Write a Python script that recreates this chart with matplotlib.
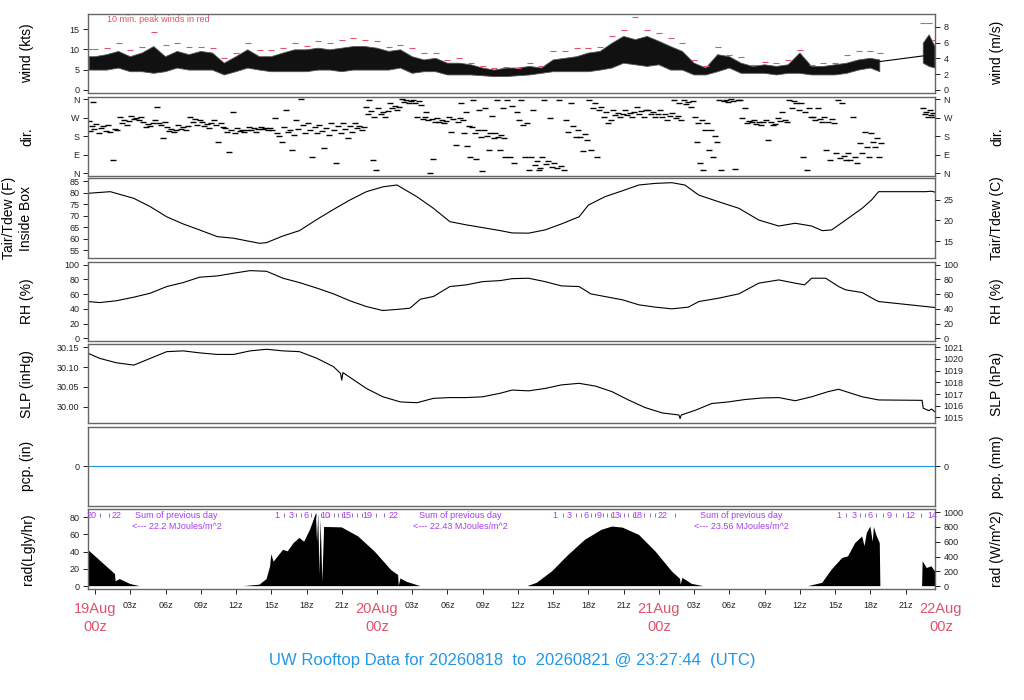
"""UW rooftop weather station: 3-day stacked panel plot."""
import numpy as np
import matplotlib
matplotlib.use("Agg")
import matplotlib.pyplot as plt
from matplotlib.transforms import blended_transform_factory

plt.rcParams["font.family"] = ["Liberation Sans", "DejaVu Sans"]

RED = "#DF536B"
BLUE = "#2297E6"
PURPLE = "#A63CF0"
nan = np.nan

# ---- data; x is hours since 19 Aug 00z ----
wind_hours = [-0.5] + list(range(0, 67)) + [66.8, 68.0, 70.5, 71.0, 71.5]
wind_low = [4.9, 4.9, 4.9, 5.4, 4.5, 4.5, 4.1, 4.5, 5.4, 4.9, 4.9, 4.9, 3.7, 4.5, 5.4,
            4.9, 4.5, 4.5, 4.5, 4.5, 4.9, 4.9, 4.5, 4.9, 4.9, 4.9, 4.9, 5.4, 4.1, 4.5,
            4.5, 3.7, 3.7, 3.7, 3.5, 3.3, 3.3, 3.5, 3.7, 4.1, 4.5, 4.5, 4.5, 4.5, 4.9,
            5.4, 6.6, 6.2, 5.8, 6.2, 4.9, 4.9, 3.7, 3.7, 4.5, 5.4, 4.1, 4.1, 4.1, 3.7,
            4.1, 4.1, 3.7, 3.7, 3.7, 4.1, 4.9, 5.4, 4.5, nan, 6.6, 5.8, 5.4]
wind_high = [8.2, 8.2, 8.7, 9.5, 8.2, 9.1, 10.7, 8.2, 9.5, 8.7, 9.5, 9.1, 6.6, 8.2, 9.9,
             8.2, 8.2, 9.1, 9.9, 9.9, 10.3, 9.9, 10.3, 10.7, 10.7, 10.3, 9.5, 9.9, 8.2, 7.4,
             7.8, 6.6, 6.6, 6.2, 5.4, 4.9, 5.4, 5.4, 5.8, 5.4, 7.4, 7.8, 8.2, 9.1, 9.5,
             11.5, 13.2, 12.4, 13.2, 12.0, 10.7, 9.5, 6.6, 5.4, 8.7, 8.2, 6.6, 5.8, 6.2, 5.8,
             6.2, 9.1, 5.8, 5.8, 6.2, 6.6, 7.4, 7.8, 7.4, nan, 11.5, 13.6, 10.7]
wind_peak = [10.1, 10.1, 10.3, 11.5, 9.9, 10.7, 14.4, 11.1, 11.5, 10.7, 10.7, 10.3, 7.8, 9.1, 11.5,
             9.9, 9.9, 10.3, 11.5, 10.9, 12.0, 11.5, 12.4, 12.8, 12.4, 12.0, 10.7, 11.1, 10.3, 9.1,
             9.1, 7.4, 7.8, 6.6, 5.8, 5.4, 5.6, 5.4, 6.6, 5.8, 9.5, 9.5, 10.3, 10.3, 10.7,
             13.2, 14.8, 18.1, 14.8, 14.0, 12.8, 11.5, 7.4, 5.8, 10.7, 8.7, 8.2, 6.2, 7.0, 6.6,
             7.4, 9.9, 6.2, 6.6, 6.6, 8.7, 9.5, 9.5, 9.1, nan, 16.5, 16.5, 12.4]
wind_gap_hours = [66.8, 70.5]
wind_gap_kts = [7.0, 8.4]

dir_block_start = [-0.6] + list(range(0, 67)) + [70.4, 71.0]
dir_block_values = [
    [252, 205, 232, 349, 214], [240, 196, 222, 230, 205], [235, 200, 64, 215, 210],
    [275, 245, 260, 235, 255], [280, 262, 270, 259, 275], [250, 226, 240, 232, 245],
    [259, 324, 245, 235, 169, 250], [226, 205, 215, 202, 212], [235, 215, 225, 210, 228],
    [275, 250, 262, 235, 258], [250, 228, 238, 218, 245], [259, 235, 153, 245, 226],
    [218, 200, 104, 210, 300, 194], [218, 205, 212, 202, 208], [226, 210, 218, 202, 215],
    [226, 214, 220, 210, 218], [210, 267, 195, 180, 153], [226, 308, 200, 212, 112, 186],
    [259, 215, 360, 235, 194], [243, 210, 80, 225, 194], [235, 205, 120, 220, 186],
    [243, 210, 47, 228, 194], [243, 215, 169, 228, 202], [243, 220, 232, 210, 225],
    [324, 290, 357, 305, 64, 275, 15], [316, 290, 300, 275, 305], [340, 320, 330, 308, 325],
    [360, 348, 355, 340, 352], [357, 340, 275, 350, 332, 265], [275, 300, 258, 0, 265, 70, 251],
    [267, 250, 258, 243, 255], [275, 202, 265, 137, 251], [267, 340, 259, 195, 300, 130, 230, 80],
    [226, 357, 195, 70, 210, 308, 178, 8], [210, 320, 180, 112, 195, 280, 169],
    [194, 357, 175, 112, 185, 320, 169, 80], [357, 80, 330, 47, 300], [259, 357, 235, 80, 245, 15],
    [80, 308, 40, 60, 15, 25], [80, 357, 45, 60, 270, 31], [47, 25, 357, 35, 15],
    [259, 200, 340, 230, 178], [210, 175, 110, 190, 161], [357, 112, 320, 340, 80, 308],
    [324, 275, 300, 243, 260], [308, 285, 295, 275, 290], [308, 285, 295, 275, 300],
    [324, 290, 305, 275, 310], [308, 288, 298, 275, 290], [308, 275, 290, 259, 280],
    [292, 357, 270, 280, 340, 259], [357, 335, 348, 324, 350], [275, 150, 243, 47, 260, 15, 210],
    [243, 112, 210, 80, 180, 150], [357, 15, 350, 355, 349], [360, 352, 20, 357, 355],
    [267, 320, 243, 255, 250], [259, 240, 248, 235, 250], [259, 160, 248, 235, 240],
    [267, 255, 300, 260, 251], [357, 320, 350, 340, 308], [340, 80, 300, 15, 320, 275],
    [275, 258, 320, 265, 251], [275, 112, 250, 64, 262, 243], [96, 357, 75, 340, 85, 64],
    [96, 65, 275, 80, 47], [145, 100, 200, 125, 80], [194, 150, 129, 170, 80, 145],
    [316, 290, 300, 275], [308, 285, 295, 275],
]

temp_hours = [-0.57, 1.3, 3.3, 4.7, 6.1, 7.5, 8.9, 10.4, 11.8, 14.0, 14.6, 16.0, 17.4, 18.9,
              20.3, 21.7, 23.1, 24.5, 25.7, 27.4, 28.8, 30.2, 31.6, 33.0, 34.5, 35.5, 36.9,
              38.3, 39.7, 41.2, 42.0, 43.4, 44.9, 46.3, 47.7, 49.1, 50.2, 51.4, 53.1, 54.8,
              56.5, 58.2, 59.6, 61.0, 61.9, 62.7, 63.9, 65.3, 66.1, 66.7, 70.7, 71.2, 71.5]
temp_f = [79.7, 80.4, 77.5, 73.9, 69.5, 66.4, 63.8, 60.9, 60.2, 58.0, 58.3, 61.2, 63.5, 68.4,
          72.7, 76.8, 80.4, 82.5, 83.3, 78.2, 73.2, 67.4, 66.0, 64.8, 63.5, 62.5, 62.4,
          63.8, 66.4, 69.5, 74.6, 78.2, 80.8, 83.3, 84.0, 84.3, 83.3, 78.9, 76.0, 73.2,
          68.1, 65.5, 66.7, 65.5, 63.5, 63.8, 68.1, 73.2, 76.8, 80.4, 80.4, 80.6, 80.2]

rh_hours = [-0.6, 0.4, 1.8, 3.3, 4.7, 6.1, 7.5, 8.9, 10.4, 11.8, 13.2, 14.6, 16.0, 17.4,
            18.9, 20.3, 21.7, 23.1, 24.5, 26.0, 26.8, 27.7, 28.8, 30.2, 31.6, 33.0, 34.5,
            35.5, 36.9, 38.3, 39.7, 41.2, 42.2, 43.4, 44.9, 46.3, 47.7, 49.1, 50.5, 51.4,
            53.1, 54.8, 56.5, 58.2, 59.6, 60.4, 61.0, 62.2, 63.3, 63.9, 65.3, 66.4, 66.7, 71.5]
rh_pct = [50.0, 48.6, 51.0, 55.9, 61.3, 70.3, 75.7, 83.0, 84.7, 88.4, 91.9, 91.0, 81.6, 75.7,
          68.1, 60.4, 51.0, 43.2, 37.8, 39.7, 41.0, 53.2, 56.8, 70.3, 72.6, 77.0, 78.4,
          81.0, 81.6, 77.0, 71.2, 70.3, 60.4, 56.8, 52.3, 45.5, 42.4, 40.1, 42.4, 50.0,
          54.6, 60.4, 74.9, 79.3, 74.9, 72.6, 81.6, 81.6, 70.3, 65.8, 62.2, 52.3, 50.0, 41.9]

slp_hours = [-0.6, 0.4, 1.8, 3.3, 4.7, 6.1, 7.5, 8.9, 10.4, 11.8, 13.2, 14.6, 16.0, 17.4,
             18.9, 20.3, 20.9, 21.0, 21.1, 21.7, 23.1, 24.5, 26.0, 27.4, 28.8, 30.2, 31.6,
             33.0, 34.5, 35.5, 36.9, 38.3, 39.7, 41.2, 42.6, 44.0, 45.4, 46.8, 48.3, 49.7,
             49.8, 49.9, 51.1, 52.5, 53.9, 55.3, 56.8, 58.2, 59.6, 61.0, 62.4, 63.3, 65.3,
             66.7, 70.4, 70.5, 71.0, 71.2, 71.5]
slp_inhg = [30.135, 30.122, 30.111, 30.105, 30.122, 30.139, 30.141, 30.136, 30.132, 30.132,
            30.141, 30.145, 30.141, 30.139, 30.122, 30.101, 30.084, 30.067, 30.086, 30.074,
            30.046, 30.025, 30.012, 30.010, 30.021, 30.023, 30.023, 30.025, 30.034, 30.042,
            30.040, 30.046, 30.055, 30.059, 30.052, 30.038, 30.017, 29.998, 29.984, 29.979,
            29.970, 29.979, 29.991, 30.008, 30.012, 30.018, 30.022, 30.023, 30.015, 30.025,
            30.038, 30.044, 30.025, 30.017, 30.016, 29.996, 29.990, 29.994, 29.987]

pcp_hours = [-0.6, 71.5]
pcp_in = [0.0, 0.0]

rad_hours = [-0.6, 1.7, 1.75, 2.1, 3.0, 3.8,
             12.6, 14.0, 14.6, 14.9, 15.0, 15.2, 16.0, 16.4, 16.9, 17.4, 17.8, 18.3, 18.8,
             18.9, 19.0, 19.1, 19.2, 19.35, 19.5, 19.6, 21.0, 22.4, 23.8, 25.2, 25.8, 25.85,
             26.0, 26.5, 27.7,
             36.8, 37.6, 38.9, 40.3, 41.7, 43.1, 44.0, 44.9, 46.3, 47.7, 49.1, 49.8, 49.85,
             50.0, 50.8, 51.8,
             60.7, 61.9, 62.7, 63.6, 64.1, 64.7, 65.3, 65.5, 65.7, 66.0, 66.2, 66.3, 66.5,
             66.8, 66.85, 68.0, 70.4, 70.45, 70.8, 71.2, 71.5]
rad_wm2 = [490, 163, 65, 96, 29, 0,
           0, 20, 96, 265, 430, 330, 490, 470, 581, 650, 600, 762, 980,
           600, 985, 150, 900, 60, 800, 798, 793, 671, 468, 218, 150, 5,
           105, 60, 0,
           0, 45, 200, 424, 625, 759, 804, 790, 692, 469, 200, 98, 20,
           112, 31, 0,
           0, 45, 223, 380, 402, 580, 670, 540, 720, 804, 600, 800, 692,
           580, 0, nan, 0, 335, 245, 268, 200]

# cumulative daily radiation marks (MJ/m^2) along the top of the rad panel
mj_label_hours = [-0.28, 1.85, 15.5, 16.7, 18.0, 19.6, 21.4, 23.2, 25.4,
                  39.1, 40.4, 41.8, 42.9, 44.3, 46.2, 48.3,
                  63.3, 64.6, 66.0, 67.6, 69.4, 71.3]
mj_labels = ["20", "22", "1", "3", "6", "10", "15", "19", "22",
             "1", "3", "6", "9", "13", "18", "22",
             "1", "3", "6", "9", "12", "14"]
mj_tick_hours = [0.43, 1.2, 16.1, 17.1, 17.55, 18.4, 18.8, 19.2, 19.95, 20.3, 20.65, 21.0,
                 21.85, 22.3, 22.75, 23.9, 24.6, 39.8, 40.9, 41.35, 42.2, 42.55, 43.25,
                 43.6, 43.95, 44.65, 45.0, 45.4, 45.8, 46.7, 47.2, 47.7, 49.4,
                 63.95, 65.1, 65.55, 66.5, 67.05, 68.2, 68.8, 70.3]
day_sum_hours = [6.95, 31.1, 55.0]
day_sums = ["22.2", "22.43", "23.56"]

day_hours = [0, 24, 48, 72]
day_names = ["19Aug", "20Aug", "21Aug", "22Aug"]

KTS_PER_MS = 1.94384
HPA_PER_INHG = 33.8639
WM2_PER_LY = 11.622

W, H = 1024, 700
X0, X1 = 88, 935
XLIM = (-0.6, 71.5)
panel_px = [(13.7, 93), (96.7, 175.7), (178.3, 258.3), (261.7, 341),
            (344.3, 423.3), (426.7, 506), (509.3, 589)]

fig = plt.figure(figsize=(W / 100, H / 100), dpi=100)


def make_panel(top, bottom):
    ax = fig.add_axes([X0 / W, 1 - bottom / H, (X1 - X0) / W, (bottom - top) / H])
    ax.set_xlim(*XLIM)
    for s in ax.spines.values():
        s.set_color("#666666")
        s.set_linewidth(1.0)
    ax.tick_params(axis="y", labelsize=6.5, length=3.6, width=0.7, pad=2.5, colors="#222222")
    ax.tick_params(axis="x", bottom=False, labelbottom=False)
    return ax


def right_axis(ax, conv, ticks, labels=None):
    ax2 = ax.twinx()
    lo, hi = ax.get_ylim()
    ax2.set_ylim(conv(lo), conv(hi))
    ax2.set_yticks(ticks)
    if labels is not None:
        ax2.set_yticklabels(labels)
    ax2.tick_params(axis="y", labelsize=6.5, length=3.6, width=0.7, pad=2.5, colors="#222222")
    for s in ax2.spines.values():
        s.set_visible(False)
    return ax2


axes = [make_panel(t, b) for t, b in panel_px]
ax_w, ax_d, ax_t, ax_rh, ax_p, ax_pc, ax_r = axes

# wind: band between hourly low and high of the 1-minute trace
ax_w.fill_between(wind_hours, wind_low, wind_high, color="#111111", lw=0.6, edgecolor="#555555")
ax_w.plot(wind_gap_hours, wind_gap_kts, color="black", lw=0.8)
ax_w.plot(wind_hours, wind_peak, ls="none", marker="_", ms=4, mew=0.8, color=RED)
ax_w.set_ylim(-0.75, 18.8)
ax_w.set_yticks([0, 5, 10, 15])
right_axis(ax_w, lambda v: v / KTS_PER_MS, [0, 2, 4, 6, 8])
fig.text(107 / W, 1 - 19.5 / H, "10 min. peak winds in red", fontsize=6.5, color=RED,
         va="center")

# wind direction
dir_x, dir_y = [], []
for i, (h0, vals) in enumerate(zip(dir_block_start, dir_block_values)):
    nxt = dir_block_start[i + 1] if i + 1 < len(dir_block_start) else XLIM[1]
    width = min(1.0, nxt - h0)
    for k, v in enumerate(vals):
        dir_x.append(h0 + width * (k + 0.5) / len(vals))
        dir_y.append(v)
ax_d.plot(dir_x, dir_y, ls="none", marker="_", ms=4, mew=1.0, color="black")
ax_d.set_ylim(-13, 373)
compass = [360, 270, 180, 90, 0]
ax_d.set_yticks(compass)
ax_d.set_yticklabels(["N", "W", "S", "E", "N"])
right_axis(ax_d, lambda v: v, compass, ["N", "W", "S", "E", "N"])

# temperature
ax_t.plot(temp_hours, temp_f, color="black", lw=0.8)
ax_t.set_ylim(51.5, 86.2)
ax_t.set_yticks([55, 60, 65, 70, 75, 80, 85])
right_axis(ax_t, lambda v: (v - 32) / 1.8, [15, 20, 25])

# relative humidity
ax_rh.plot(rh_hours, rh_pct, color="black", lw=0.8)
ax_rh.set_ylim(-3.5, 104)
ax_rh.set_yticks([0, 20, 40, 60, 80, 100])
right_axis(ax_rh, lambda v: v, [0, 20, 40, 60, 80, 100])

# pressure
ax_p.plot(slp_hours, slp_inhg, color="black", lw=0.8)
ax_p.set_ylim(29.958, 30.1576)
ax_p.set_yticks([30.00, 30.05, 30.10, 30.15])
ax_p.set_yticklabels(["30.00", "30.05", "30.10", "30.15"])
right_axis(ax_p, lambda v: v * HPA_PER_INHG, list(range(1015, 1022)))

# precipitation
ax_pc.plot(pcp_hours, pcp_in, color=BLUE, lw=0.8)
ax_pc.set_ylim(-1, 1)
ax_pc.set_yticks([0])
right_axis(ax_pc, lambda v: v, [0])

# radiation
rad_ly = np.array(rad_wm2, dtype=float) / WM2_PER_LY
ax_r.fill_between(rad_hours, 0, rad_ly, color="black", lw=0)
ax_r.set_ylim(-3.3, 89.2)
ax_r.set_yticks([0, 20, 40, 60, 80])
right_axis(ax_r, lambda v: v * WM2_PER_LY, [0, 200, 400, 600, 800, 1000])

tr_top = blended_transform_factory(ax_r.transData, fig.transFigure)
for h, lab in zip(mj_label_hours, mj_labels):
    ax_r.text(h, 1 - 515 / H, lab, transform=tr_top, fontsize=6.5, color=PURPLE,
              ha="center", va="center", clip_on=False)
ax_r.plot(mj_tick_hours, [0.93] * len(mj_tick_hours), ls="none", marker="|", ms=2.5,
          mew=0.7, color="#9a6fc0", transform=blended_transform_factory(ax_r.transData, ax_r.transAxes))
for h, s in zip(day_sum_hours, day_sums):
    ax_r.text(h, 1 - 515 / H, "Sum of previous day", transform=tr_top, fontsize=6.5,
              color=PURPLE, ha="center", va="center")
    ax_r.text(h, 1 - 526.5 / H, "<--- " + s + " MJoules/m^2", transform=tr_top,
              fontsize=6.5, color=PURPLE, ha="center", va="center")

# time axis
xt = list(range(0, 70, 3))
ax_r.set_xticks(xt)
ax_r.set_xticklabels(["" if h % 24 == 0 else f"{h % 24:02d}z" for h in xt])
ax_r.tick_params(axis="x", bottom=True, labelbottom=True, labelsize=6.5, length=3.6,
                 width=0.7, pad=5, colors="#222222")
tr_bot = blended_transform_factory(ax_r.transData, fig.transFigure)
for h, name in zip(day_hours, day_names):
    ax_r.text(h, 1 - 609 / H, name, transform=tr_bot, fontsize=10.5, color=RED,
              ha="center", va="center", clip_on=False)
    ax_r.text(h, 1 - 627 / H, "00z", transform=tr_bot, fontsize=10.5, color=RED,
              ha="center", va="center", clip_on=False)

# axis titles
left_titles = ["wind (kts)", "dir.", None, "RH (%)", "SLP (inHg)", "pcp. (in)", "rad(Lgly/hr)"]
right_titles = ["wind (m/s)", "dir.", "Tair/Tdew (C)", "RH (%)", "SLP (hPa)", "pcp. (mm)",
                "rad (W/m^2)"]
for (t, b), lt, rt in zip(panel_px, left_titles, right_titles):
    yc = 1 - (t + b) / 2 / H
    if lt is not None:
        fig.text(27.5 / W, yc, lt, rotation=90, fontsize=10, ha="center", va="center")
    fig.text(997 / W, yc, rt, rotation=90, fontsize=10, ha="center", va="center")
yc_t = 1 - (panel_px[2][0] + panel_px[2][1]) / 2 / H
fig.text(9.5 / W, yc_t, "Tair/Tdew (F)", rotation=90, fontsize=10, ha="center", va="center")
fig.text(26.5 / W, yc_t, "Inside Box", rotation=90, fontsize=10, ha="center", va="center")

fig.text(512 / W, 1 - 660 / H, "UW Rooftop Data for 20260818  to  20260821 @ 23:27:44  (UTC)",
         fontsize=12, color=BLUE, ha="center", va="center")

fig.savefig("out.png", dpi=100)
